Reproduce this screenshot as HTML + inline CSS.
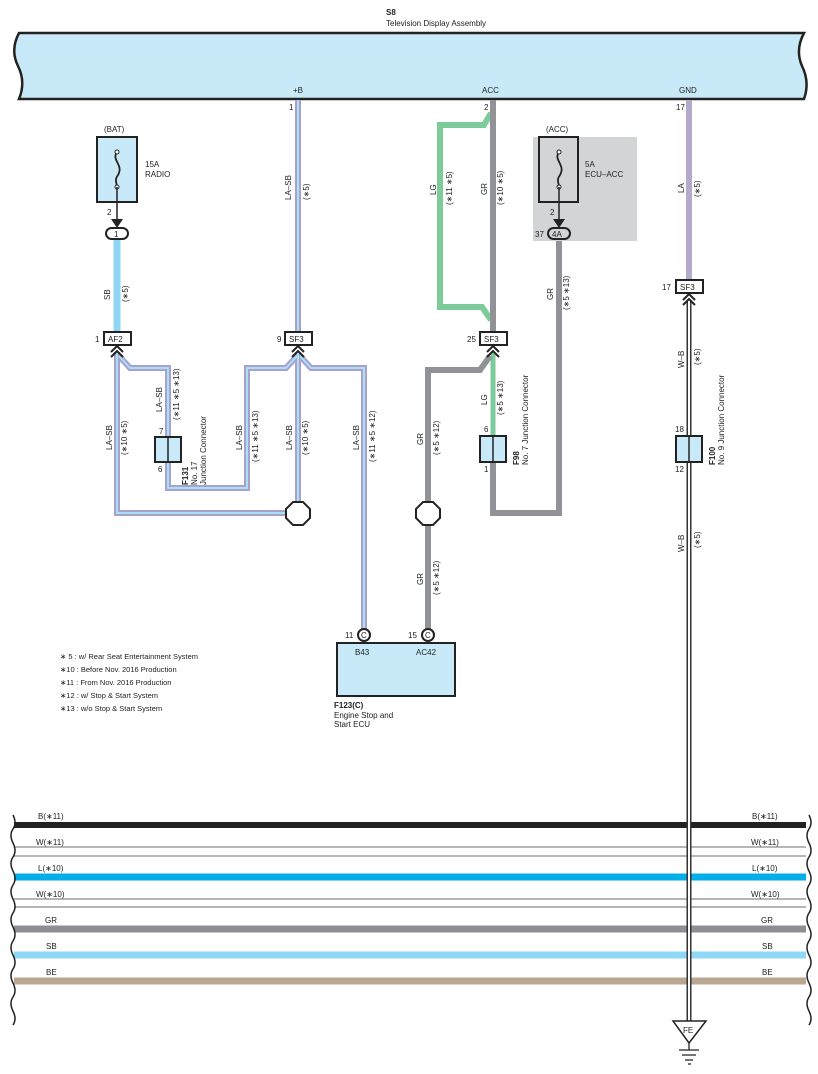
<!DOCTYPE html>
<html><head><meta charset="utf-8"><style>
body{margin:0;background:#fff}
svg{display:block;font-family:"Liberation Sans",sans-serif}
text{fill:#222}
</style></head><body>
<svg width="818" height="1074" viewBox="0 0 818 1074" xmlns="http://www.w3.org/2000/svg">
<path d="M19,33 L804,33 Q795,50 802,66 Q810,82 804,99 L19,99 Q26,82 18,66 Q10,50 19,33 Z" fill="#c8eaf8" stroke="#222" stroke-width="2.5"/>
<text x="386" y="15" font-size="8" font-weight="bold">S8</text>
<text x="386" y="26" font-size="8">Television Display Assembly</text>
<text x="293" y="93" font-size="8">+B</text>
<text x="482" y="93" font-size="8">ACC</text>
<text x="679" y="93" font-size="8">GND</text>
<text x="289" y="110" font-size="8">1</text>
<text x="484" y="110" font-size="8">2</text>
<text x="676" y="110" font-size="8">17</text>

<g fill="none" stroke-linejoin="miter">
<g stroke="#a9a0cc" stroke-width="6">
<path d="M298,100 V332"/>
<path d="M117,352 V513 H292"/>
<path d="M119,356 L130,368 H168 V437"/>
<path d="M168,462 V488 H247 V368 H286 L297,356"/>
<path d="M298,352 V505"/>
<path d="M300,356 L311,368 H364 V629"/>
</g>
<g stroke="#a8e0f6" stroke-width="2">
<path d="M298,100 V332"/>
<path d="M117,352 V513 H292"/>
<path d="M119,356 L130,368 H168 V437"/>
<path d="M168,462 V488 H247 V368 H286 L297,356"/>
<path d="M298,352 V505"/>
<path d="M300,356 L311,368 H364 V629"/>
</g>
</g>
<path d="M117,240 V332" stroke="#8fd6f5" stroke-width="7" fill="none"/>
<path d="M491,113 L484,125 H440 V307 H482 L491,320" stroke="#7dcb9a" stroke-width="6" fill="none"/>
<path d="M493,352 V435" stroke="#7dcb9a" stroke-width="5" fill="none"/>
<path d="M493,100 V332" stroke="#909297" stroke-width="6" fill="none"/>
<path d="M490,356 L480,370 H428 V629" stroke="#909297" stroke-width="6" fill="none"/>
<path d="M493,462 V513 H559 V240" stroke="#909297" stroke-width="6" fill="none"/>
<path d="M689,100 V280" stroke="#b5aacb" stroke-width="6" fill="none"/>
<path d="M689,300 V1022" stroke="#333" stroke-width="5" fill="none"/>
<path d="M689,300 V1022" stroke="#fff" stroke-width="2" fill="none"/>

<g fill="none">
<path d="M14,825 H806" stroke="#222" stroke-width="6"/>
<path d="M14,847 H806 M14,856 H806" stroke="#8a8a8a" stroke-width="1.3"/>
<path d="M14,877 H806" stroke="#00aeea" stroke-width="7"/>
<path d="M14,899 H806 M14,907 H806" stroke="#8a8a8a" stroke-width="1.3"/>
<path d="M14,929 H806" stroke="#8d8f94" stroke-width="7"/>
<path d="M14,955 H806" stroke="#8dd8f6" stroke-width="7"/>
<path d="M14,981 H806" stroke="#bba692" stroke-width="7"/>
<path d="M13,815 q4,8 0,14 q-4,6 0,14 q4,8 0,14 q-4,6 0,14 q4,8 0,14 q-4,6 0,14 q4,8 0,14 q-4,6 0,14 q4,8 0,14 q-4,6 0,14 q4,8 0,14 q-4,6 0,14 q4,8 0,14 q-4,6 0,14 q4,8 0,14" stroke="#222" stroke-width="1.5"/>
<path d="M809,815 q4,8 0,14 q-4,6 0,14 q4,8 0,14 q-4,6 0,14 q4,8 0,14 q-4,6 0,14 q4,8 0,14 q-4,6 0,14 q4,8 0,14 q-4,6 0,14 q4,8 0,14 q-4,6 0,14 q4,8 0,14 q-4,6 0,14 q4,8 0,14" stroke="#222" stroke-width="1.5"/>
</g>
<path d="M689,815 V990" stroke="#333" stroke-width="5"/>
<path d="M689,815 V990" stroke="#fff" stroke-width="2"/>
<g font-size="8">
<text x="38" y="819">B(∗11)</text><text x="752" y="819">B(∗11)</text>
<text x="36" y="845">W(∗11)</text><text x="751" y="845">W(∗11)</text>
<text x="38" y="871">L(∗10)</text><text x="752" y="871">L(∗10)</text>
<text x="36" y="897">W(∗10)</text><text x="751" y="897">W(∗10)</text>
<text x="45" y="923">GR</text><text x="761" y="923">GR</text>
<text x="46" y="949">SB</text><text x="762" y="949">SB</text>
<text x="46" y="975">BE</text><text x="762" y="975">BE</text>
</g>
<path d="M673,1021 H706 L689,1043 Z" fill="#fff" stroke="#222" stroke-width="1.5"/>
<text x="683" y="1033" font-size="8">FE</text>
<path d="M689,1043 V1050 M679,1050 H699 M682,1055 H696 M685,1060 H693 M688,1064 H691" stroke="#222" stroke-width="1.3"/>

<text x="104" y="132" font-size="8">(BAT)</text>
<rect x="97" y="137" width="40" height="65" fill="#c8eaf8" stroke="#222" stroke-width="2"/>
<path d="M117,152 C111,160 124,165 118,175 C114,180 117,183 117,187" fill="none" stroke="#222" stroke-width="1.8"/>
<circle cx="117" cy="152" r="2" fill="#fff" stroke="#222"/><circle cx="117" cy="187" r="2" fill="#fff" stroke="#222"/>
<path d="M117,187 V226" stroke="#222" stroke-width="1.5"/>
<path d="M111,219 L117,228 L123,219 Z" fill="#222"/>
<text x="145" y="167" font-size="8">15A</text><text x="145" y="177" font-size="8">RADIO</text>
<text x="107" y="215" font-size="8">2</text>
<rect x="106" y="228" width="22" height="11" rx="5.5" fill="#fff" stroke="#222" stroke-width="2"/>
<text x="114" y="237" font-size="8">1</text>

<rect x="533" y="137" width="104" height="104" fill="#d3d4d6"/>
<text x="546" y="132" font-size="8">(ACC)</text>
<rect x="539" y="137" width="39" height="65" fill="#d3d4d6" stroke="#222" stroke-width="2"/>
<path d="M559,152 C553,160 566,165 560,175 C556,180 559,183 559,187" fill="none" stroke="#222" stroke-width="1.8"/>
<circle cx="559" cy="152" r="2" fill="#fff" stroke="#222"/><circle cx="559" cy="187" r="2" fill="#fff" stroke="#222"/>
<path d="M559,187 V226" stroke="#222" stroke-width="1.5"/>
<path d="M553,219 L559,228 L565,219 Z" fill="#222"/>
<text x="585" y="167" font-size="8">5A</text><text x="585" y="177" font-size="8">ECU–ACC</text>
<text x="550" y="215" font-size="8">2</text>
<rect x="548" y="228" width="22" height="11" rx="5.5" fill="#d3d4d6" stroke="#222" stroke-width="2"/>
<text x="552" y="237" font-size="8">4A</text>
<text x="535" y="237" font-size="8">37</text>

<g font-size="8">
<rect x="104" y="332" width="27" height="13" fill="#fff" stroke="#222" stroke-width="2"/><text x="108" y="342">AF2</text><text x="95" y="342">1</text>
<rect x="285" y="332" width="27" height="13" fill="#fff" stroke="#222" stroke-width="2"/><text x="289" y="342">SF3</text><text x="277" y="342">9</text>
<rect x="480" y="332" width="27" height="13" fill="#fff" stroke="#222" stroke-width="2"/><text x="484" y="342">SF3</text><text x="467" y="342">25</text>
<rect x="676" y="280" width="27" height="13" fill="#fff" stroke="#222" stroke-width="2"/><text x="680" y="290">SF3</text><text x="662" y="290">17</text>
</g>
<g fill="none" stroke="#222" stroke-width="2">
<path d="M111,352 L117,346 L123,352 M111,357 L117,351 L123,357"/>
<path d="M292,352 L298,346 L304,352 M292,357 L298,351 L304,357"/>
<path d="M487,352 L493,346 L499,352 M487,357 L493,351 L499,357"/>
<path d="M683,300 L689,294 L695,300 M683,305 L689,299 L695,305"/>
</g>

<g font-size="8">
<rect x="155" y="437" width="26" height="25" fill="#c8eaf8" stroke="#222" stroke-width="2"/><path d="M168,437 V462" stroke="#222" stroke-width="1.5"/>
<text x="159" y="434">7</text><text x="158" y="472">6</text>
<rect x="480" y="436" width="26" height="26" fill="#c8eaf8" stroke="#222" stroke-width="2"/><path d="M493,436 V462" stroke="#222" stroke-width="1.5"/>
<text x="484" y="432">6</text><text x="484" y="472">1</text>
<rect x="676" y="436" width="26" height="26" fill="#c8eaf8" stroke="#222" stroke-width="2"/><path d="M689,436 V462" stroke="#222" stroke-width="1.5"/>
<text x="675" y="432">18</text><text x="675" y="472">12</text>
</g>

<path d="M293,502 H303 L310,509 V518 L303,525 H293 L286,518 V509 Z" fill="#fff" stroke="#222" stroke-width="2"/>
<path d="M423,502 H433 L440,509 V518 L433,525 H423 L416,518 V509 Z" fill="#fff" stroke="#222" stroke-width="2"/>

<rect x="337" y="643" width="118" height="53" fill="#c8eaf8" stroke="#222" stroke-width="2"/>
<circle cx="364" cy="635" r="6" fill="#fff" stroke="#222" stroke-width="2"/>
<circle cx="428" cy="635" r="6" fill="#fff" stroke="#222" stroke-width="2"/>
<g font-size="8">
<text x="361" y="638">C</text><text x="425" y="638">C</text>
<text x="345" y="638">11</text><text x="408" y="638">15</text>
<text x="355" y="655">B43</text><text x="416" y="655">AC42</text>
<text x="334" y="708" font-weight="bold">F123(C)</text>
<text x="334" y="718">Engine Stop and</text>
<text x="334" y="727">Start ECU</text>
</g>
<g font-size="7.5">
<text x="60" y="659">∗ 5 : w/ Rear Seat Entertainment System</text>
<text x="60" y="672">∗10 : Before Nov.  2016 Production</text>
<text x="60" y="685">∗11 : From Nov.  2016 Production</text>
<text x="60" y="698">∗12 : w/ Stop &amp; Start System</text>
<text x="60" y="711">∗13 : w/o Stop &amp; Start System</text>
</g>

<g font-size="8">
<text transform="translate(110,300) rotate(-90)">SB</text>
<text transform="translate(128,302) rotate(-90)">(∗5)</text>
<text transform="translate(291,200) rotate(-90)">LA–SB</text>
<text transform="translate(309,200) rotate(-90)">(∗5)</text>
<text transform="translate(112,450) rotate(-90)">LA–SB</text>
<text transform="translate(127,455) rotate(-90)">(∗10 ∗5)</text>
<text transform="translate(162,412) rotate(-90)">LA–SB</text>
<text transform="translate(179,420) rotate(-90)">(∗11 ∗5 ∗13)</text>
<text transform="translate(242,450) rotate(-90)">LA–SB</text>
<text transform="translate(258,462) rotate(-90)">(∗11 ∗5 ∗13)</text>
<text transform="translate(292,450) rotate(-90)">LA–SB</text>
<text transform="translate(308,455) rotate(-90)">(∗10 ∗5)</text>
<text transform="translate(359,450) rotate(-90)">LA–SB</text>
<text transform="translate(375,462) rotate(-90)">(∗11 ∗5 ∗12)</text>
<text transform="translate(188,485) rotate(-90)" font-weight="bold">F131</text>
<text transform="translate(197,485) rotate(-90)">No.  17</text>
<text transform="translate(206,485) rotate(-90)">Junction Connector</text>
<text transform="translate(436,195) rotate(-90)">LG</text>
<text transform="translate(452,205) rotate(-90)">(∗11 ∗5)</text>
<text transform="translate(487,195) rotate(-90)">GR</text>
<text transform="translate(503,205) rotate(-90)">(∗10 ∗5)</text>
<text transform="translate(553,300) rotate(-90)">GR</text>
<text transform="translate(569,310) rotate(-90)">(∗5 ∗13)</text>
<text transform="translate(487,405) rotate(-90)">LG</text>
<text transform="translate(503,415) rotate(-90)">(∗5 ∗13)</text>
<text transform="translate(423,445) rotate(-90)">GR</text>
<text transform="translate(439,455) rotate(-90)">(∗5 ∗12)</text>
<text transform="translate(423,585) rotate(-90)">GR</text>
<text transform="translate(439,595) rotate(-90)">(∗5 ∗12)</text>
<text transform="translate(519,465) rotate(-90)" font-weight="bold">F98</text>
<text transform="translate(528,465) rotate(-90)">No.  7 Junction Connector</text>
<text transform="translate(684,193) rotate(-90)">LA</text>
<text transform="translate(700,197) rotate(-90)">(∗5)</text>
<text transform="translate(684,368) rotate(-90)">W–B</text>
<text transform="translate(700,365) rotate(-90)">(∗5)</text>
<text transform="translate(684,552) rotate(-90)">W–B</text>
<text transform="translate(700,548) rotate(-90)">(∗5)</text>
<text transform="translate(715,465) rotate(-90)" font-weight="bold">F100</text>
<text transform="translate(724,465) rotate(-90)">No.  9 Junction Connector</text>
</g>
</svg>
</body></html>
